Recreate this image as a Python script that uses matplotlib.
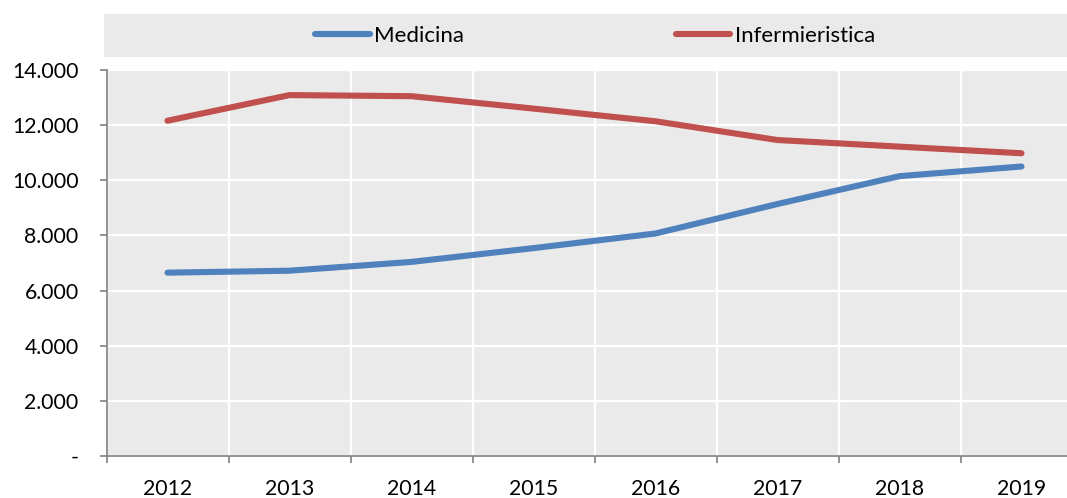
import numpy as np
import matplotlib.pyplot as plt
from matplotlib.ticker import FuncFormatter

plt.rcParams['font.family'] = ['Lato', 'DejaVu Sans']

anni = ['2012', '2013', '2014', '2015', '2016', '2017', '2018', '2019']
medicina = [6650, 6720, 7040, 7540, 8070, 9140, 10150, 10500]
infermieristica = [12160, 13090, 13050, 12600, 12140, 11460, 11220, 10980]

blu = '#4F81BD'
rosso = '#C0504D'
sfondo = '#EAEAEA'
W, H = 1067, 498
fs = 15.3

fig = plt.figure(figsize=(W/100, H/100), dpi=100)

# plot area (pixel coords converted to figure fractions)
left, right, top, bottom = 106.5, 1067, 70, 456
ax = fig.add_axes([left/W, 1 - bottom/H, (right-left)/W, (bottom-top)/H])
ax.set_facecolor(sfondo)

x = np.arange(len(anni))
l1, = ax.plot(x, medicina, color=blu, lw=4.4, solid_capstyle='round', label='Medicina', zorder=3)
l2, = ax.plot(x, infermieristica, color=rosso, lw=4.4, solid_capstyle='round', label='Infermieristica', zorder=3)

ax.set_yticks(np.arange(0, 14001, 2000))
ax.yaxis.set_major_formatter(FuncFormatter(lambda v, p: '-' if v == 0 else f'{int(v):,}'.replace(',', '.')))

# year labels centred, ticks/grid at category boundaries
ax.set_xticks(x)
ax.set_xticklabels(anni)
ax.set_xticks(np.arange(-0.5, len(anni), 1), minor=True)

cat_w = 122.0
ax.set_xlim(-0.5, -0.5 + (right-left)/cat_w)
ax.set_ylim(0, 14000)

ax.tick_params(axis='x', which='major', length=0, pad=16.5, labelsize=fs)
ax.tick_params(axis='x', which='minor', length=5, color='#808080', width=1.2)
ax.tick_params(axis='y', length=5, color='#808080', width=1.2, pad=15, labelsize=fs)

ax.grid(axis='y', color='white', lw=1.6)
ax.grid(axis='x', which='minor', color='white', lw=1.6)
ax.set_axisbelow(True)

for s in ['top', 'right']:
    ax.spines[s].set_visible(False)
for s in ['left', 'bottom']:
    ax.spines[s].set_color('#808080')
    ax.spines[s].set_linewidth(1.2)

# legend band
lax = fig.add_axes([104/W, 1 - 57.5/H, (1067-104)/W, 43.5/H])
lax.set_facecolor(sfondo)
lax.set_xticks([])
lax.set_yticks([])
for s in lax.spines.values():
    s.set_visible(False)
lax.legend(handles=[l1, l2], loc='center', bbox_to_anchor=(0.51, 0.5), ncol=2, frameon=False,
           fontsize=16, handlelength=2.45, handletextpad=0.22, columnspacing=9.5)

fig.savefig('out.png', dpi=100)
